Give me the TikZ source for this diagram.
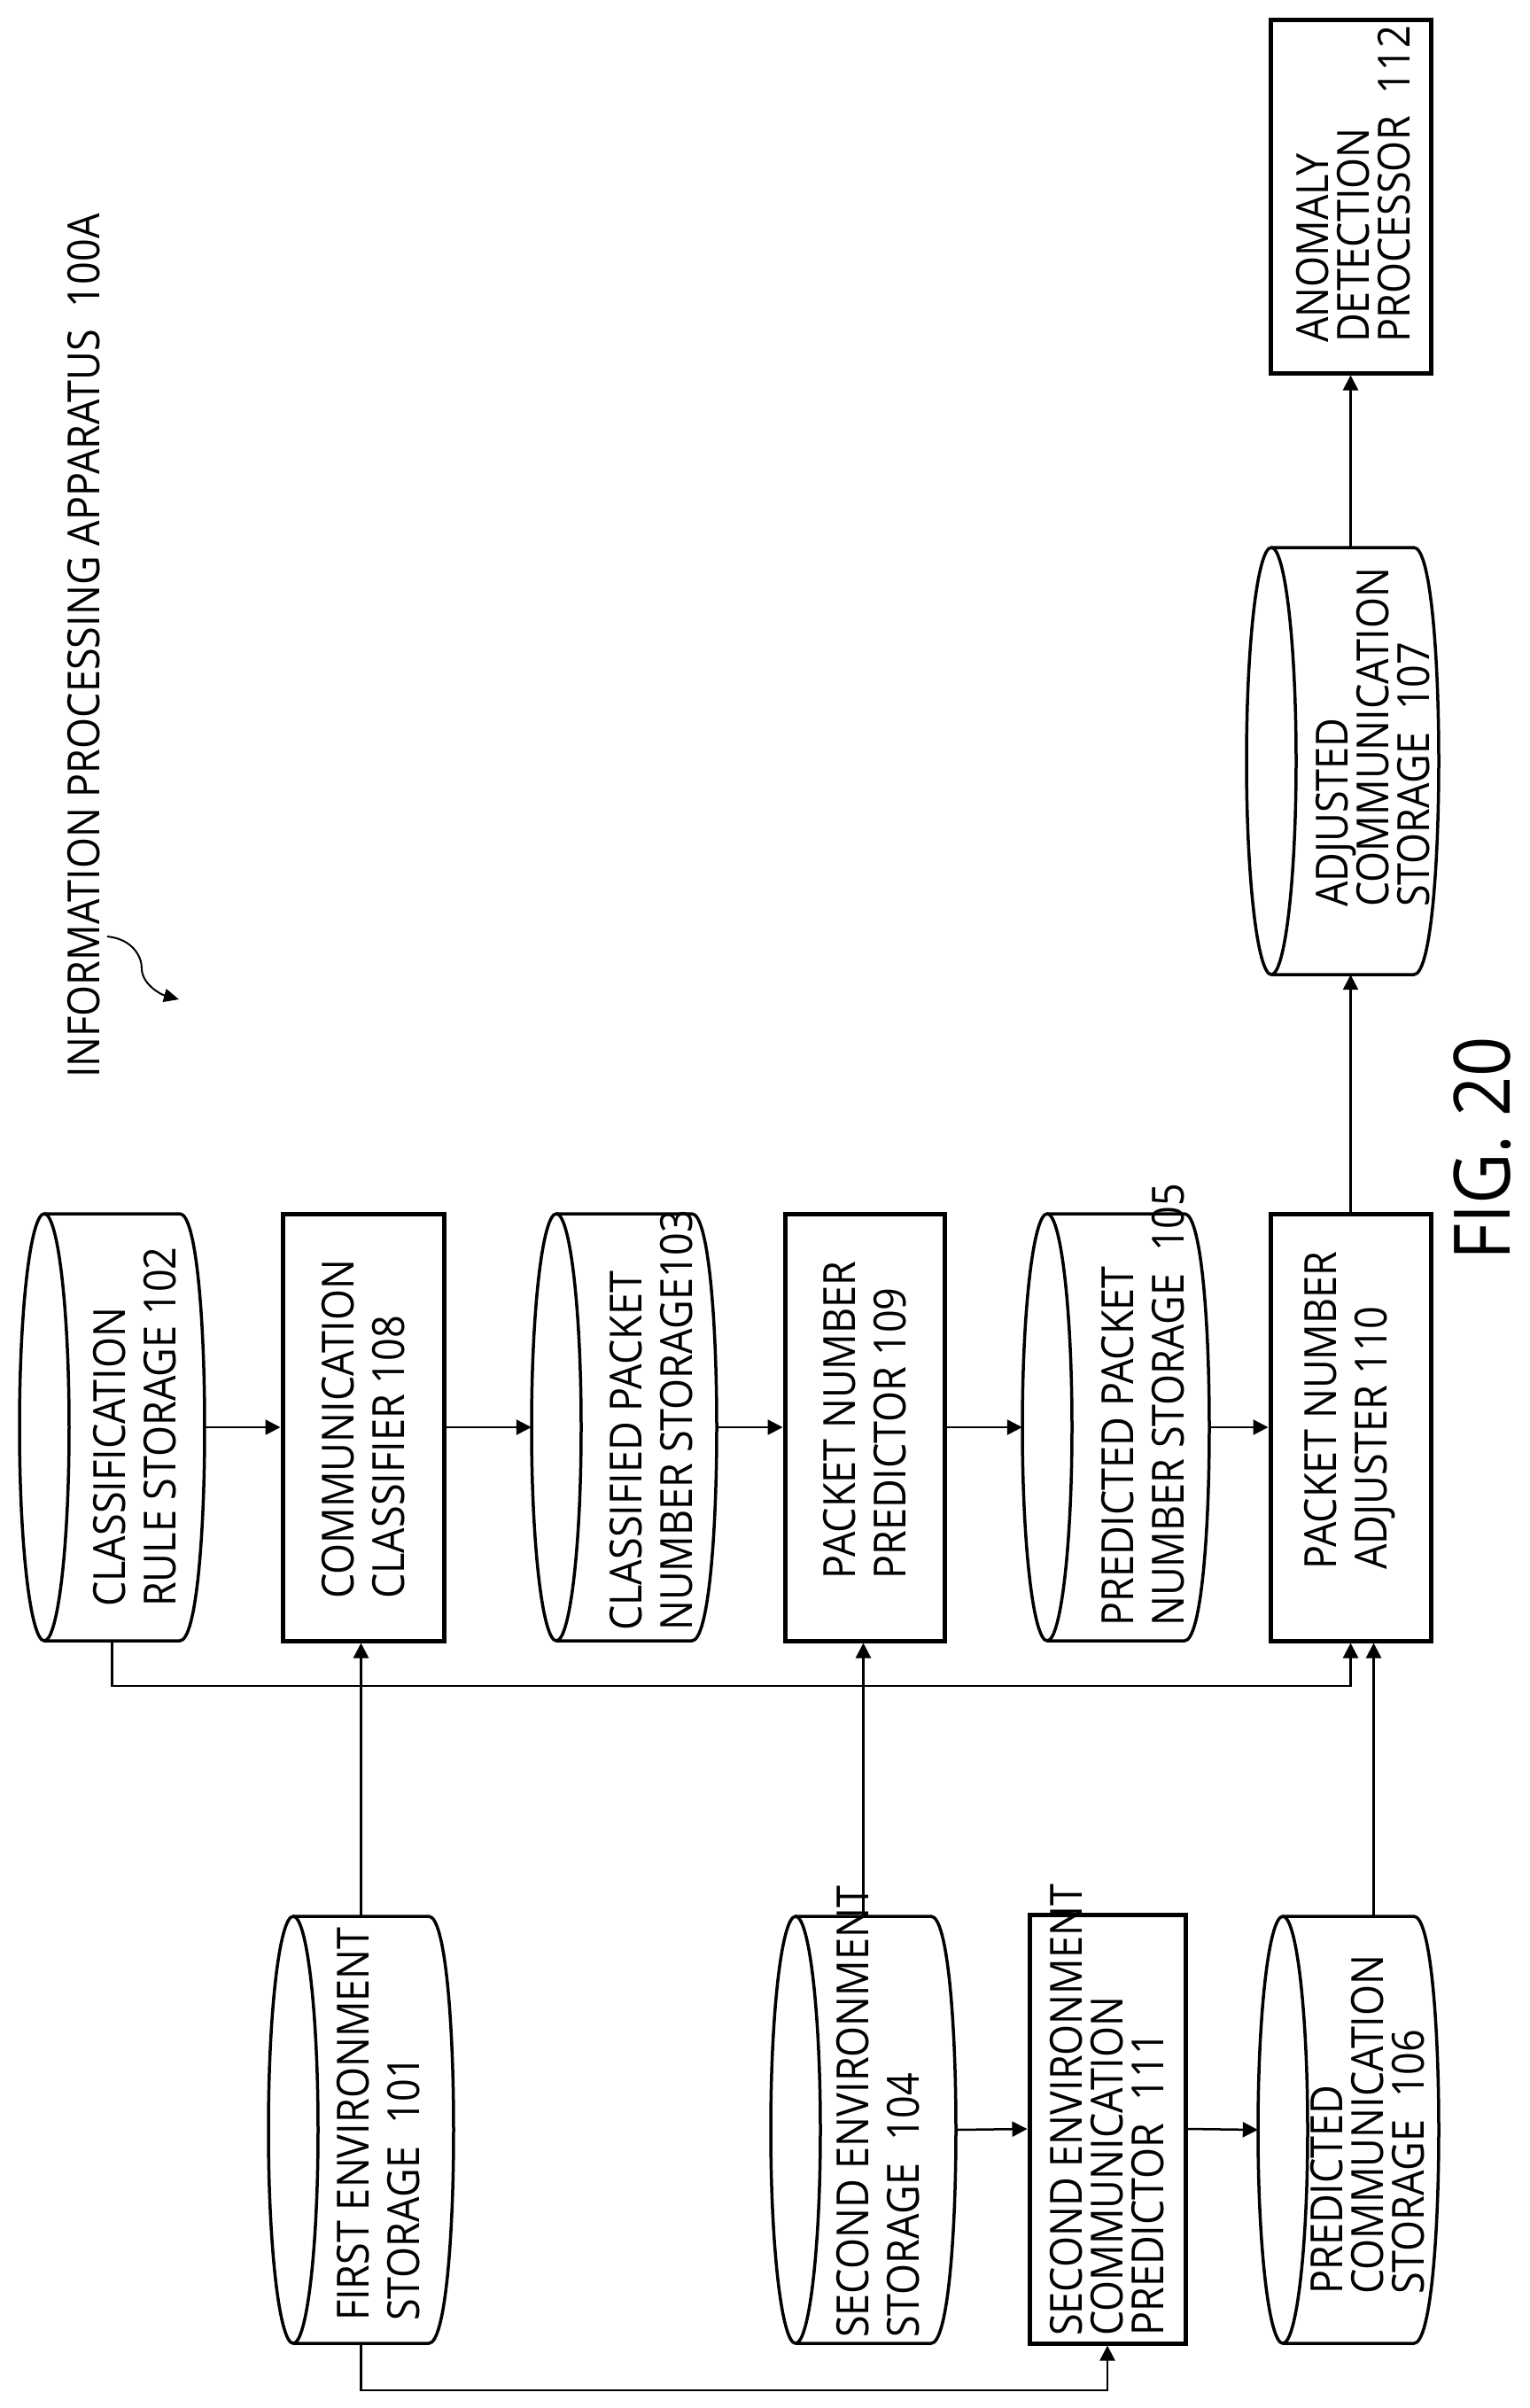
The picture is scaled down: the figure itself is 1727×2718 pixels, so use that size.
\documentclass[tikz,border=0pt]{standalone}
\usepackage{fontspec}
\setmainfont{Open Sans}[FakeStretch=0.9]
\usetikzlibrary{arrows.meta}
\newcommand\mycyl[5]{%
  \node[inner sep=0,minimum width={#3-#2},minimum height={#5-#4}] (#1) at ({(#2+#3)/2},{(#4+#5)/2}) {};
  \draw[cyl] ({#2+28},{(#4+#5)/2}) ellipse [x radius=28, y radius={(#5-#4)/2}];
  \draw[cyl] ({#2+28},#4) -- ({#3-28},#4) .. controls ({#3+9.33},#4) and ({#3+9.33},#5) .. ({#3-28},#5) -- ({#2+28},#5);
}
\tikzset{
  cyl/.style={line width=3.5pt},
  box/.style={draw,line width=5pt,inner sep=0},
  lbl/.style={rotate=90,anchor=west,align=left,inner sep=0,font=\fontsize{50}{57}\selectfont},
  lblt/.style={lbl,font=\fontsize{50}{46}\selectfont},
  conn/.style={line width=2.5pt,-{Triangle[length=17pt,width=17pt]}},
  line/.style={line width=2.5pt}
}
\begin{document}
\begin{tikzpicture}[x=1pt,y=-1pt]
\useasboundingbox (0,0) rectangle (1727,2718);
% cylinders
\mycyl{c102}{22}{231}{1370}{1852}
\mycyl{c103}{600}{809}{1370}{1852}
\mycyl{c105}{1154}{1365}{1370}{1852}
\mycyl{c101}{303}{512}{2163}{2645}
\mycyl{c104}{870}{1079}{2163}{2645}
\mycyl{c106}{1420}{1624}{2163}{2645}
\mycyl{c107}{1407}{1624}{618}{1100}
% boxes
\node[box,minimum width=182,minimum height=482] (b108) at (410,1611) {};
\node[box,minimum width=180,minimum height=482] (b109) at (976,1611) {};
\node[box,minimum width=181,minimum height=482] (b110) at (1524.5,1611) {};
\node[box,minimum width=176,minimum height=484] (b111) at (1250,2403) {};
\node[box,minimum width=181,minimum height=399] (b112) at (1524.5,221.5) {};
% labels
\node[lbl] (t102) at (152,1814) {CLASSIFICATION\\RULE STORAGE 102};
\node[lbl] (t108) at (410,1805) {COMMUNICATION\\CLASSIFIER 108};
\node[lbl] (t103) at (735,1841) {CLASSIFIED PACKET\\NUMBER STORAGE103};
\node[lbl] (t109) at (976,1783) {PACKET NUMBER\\PREDICTOR 109};
\node[lbl] (t105) at (1290,1836) {PREDICTED PACKET\\NUMBER STORAGE\enspace 105};
\node[lbl] (t110) at (1524,1772) {PACKET NUMBER\\ADJUSTER 110};
\node[lbl] (t101) at (427,2620) {FIRST ENVIRONMENT\\STORAGE\enspace 101};
\node[lbl] (t104) at (991,2639) {SECOND ENVIRONMENT\\STORAGE\enspace 104};
\node[lblt] (t111) at (1250,2637) {SECOND ENVIRONMENT\\COMMUNICATION\\PREDICTOR\enspace 111};
\node[lblt] (t106) at (1544,2590) {PREDICTED\\COMMUNICATION\\STORAGE\enspace 106};
\node[lblt] (t107) at (1550,1024) {ADJUSTED\\COMMUNICATION\\STORAGE\enspace 107};
\node[lblt] (t112) at (1528,387) {ANOMALY\\DETECTION\\PROCESSOR\enspace 112};
\node[lbl] (title) at (95,1217) {INFORMATION PROCESSING APPARATUS\enspace 100A};
\node[rotate=90,anchor=west,inner sep=0,font=\fontsize{88}{90}\selectfont] (fig) at (1673,1423) {FIG. 20};
% squiggle
\coordinate (sq1) at (121,1057);
\coordinate (sq2) at (202,1128);
\draw[line width=2pt,-{Triangle[length=17pt,width=15pt]}] (sq1) .. controls (150,1060) and (160,1080) .. (160,1093) .. controls (160,1110) and (180,1122) .. (sq2);
% connectors row A
\draw[conn] (c102.east) -- (b108.west);
\draw[conn] (b108.east) -- (c103.west);
\draw[conn] (c103.east) -- (b109.west);
\draw[conn] (b109.east) -- (c105.west);
\draw[conn] (c105.east) -- (b110.west);
% row B
\draw[conn] (c104.east) -- (b111.west);
\draw[conn] (b111.east) -- (c106.west);
% vertical
\draw[conn] (b110.north) -- (b110.north |- c107.south);
\draw[conn] (b112.south |- c107.north) -- (b112.south);
\draw[conn] (c101.north) -- (c101.north |- b108.south);
\draw[conn] (c104.north) -- (c104.north |- b109.south);
\coordinate (in110) at ([xshift=26pt]b110.south);
\draw[conn] (in110 |- c106.north) -- (in110);
\coordinate (yA) at (0,1903);
\draw[conn] (c102.south) -- (c102.south |- yA) -| (b110.south);
\coordinate (yB) at (0,2698);
\draw[conn] (c101.south) -- (c101.south |- yB) -| (b111.south);
\end{tikzpicture}
\end{document}
